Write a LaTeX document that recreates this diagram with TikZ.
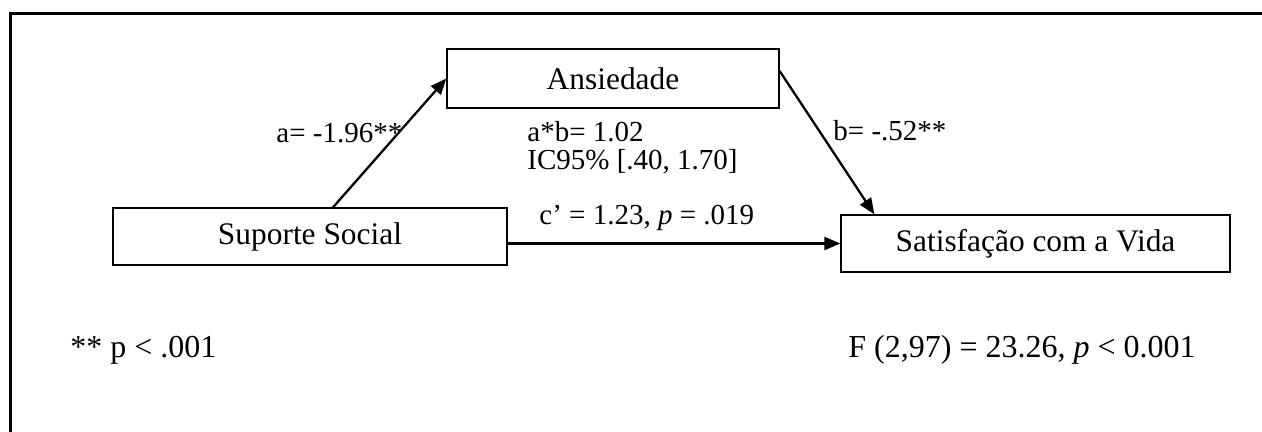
\documentclass[tikz,border=0pt]{standalone}
\usepackage{fontspec}
\setmainfont{Liberation Serif}
\usepackage{tikz}
\usetikzlibrary{arrows.meta,positioning,calc}

\tikzset{
  varbox/.style={draw=black,line width=0.65pt,inner sep=0pt,
                 minimum height=28.5pt,font=\fontsize{15.7}{18}\selectfont},
  coef/.style={anchor=west,inner sep=0pt,align=left,
               font=\fontsize{14.5}{14}\selectfont},
  note/.style={coef,font=\fontsize{16}{18}\selectfont},
  path/.style={line width=1.15pt,-{Triangle[length=8pt,width=6.5pt]}}
}

\begin{document}
\begin{tikzpicture}[x=0.5pt,y=-0.5pt]
  \useasboundingbox (0,0) rectangle (1262,432);
  % frame (only top and left edges show)
  \draw[line width=1.5pt] (10,450) |- (1280,13.5);

  % variables
  \node[varbox,minimum width=166pt,minimum height=29.5pt] (ans) at (613,78.5) {Ansiedade};
  \node[varbox,minimum width=197pt] (sup) at (310,236.5) {Suporte Social};
  \node[varbox,minimum width=194.5pt] (sat) at (1035.5,243.5) {Satisfação com a Vida};

  % paths
  \draw[path] ([xshift=11.5pt]sup.north) -- (ans.west);
  \draw[path] ([yshift=3.75pt]ans.east) -- ($(sat.north west)+(34,0)$);
  \draw[path] (sup.east |- sat.west) -- (sat.west);

  % coefficients
  \node[coef] (alab) at (276,133) {a= -1.96**};
  \node[coef] (blab) at (833,131) {b= -.52**};
  \node[coef] (ind) at (527,148) {a*b= 1.02\\IC95\% [.40, 1.70]};
  \node[coef] (clab) at (539,218) {c’ = 1.23, \textit{p} = .019};

  % notes
  \node[note] (sig) at (70,350) {** p < .001};
  \node[note] (fit) at (848,350) {F (2,97) = 23.26, \textit{p} < 0.001};
\end{tikzpicture}
\end{document}
